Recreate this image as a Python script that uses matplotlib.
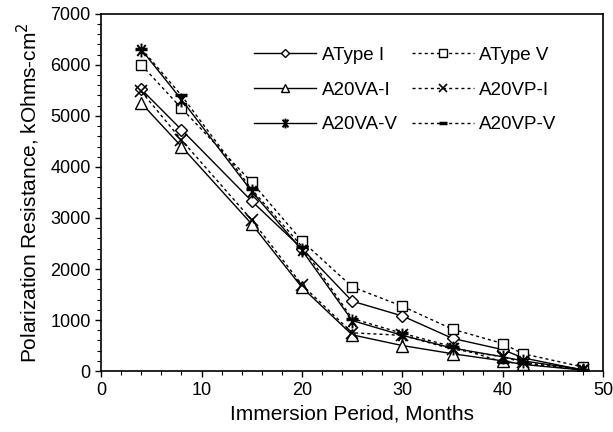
import matplotlib
matplotlib.use("Agg")
import matplotlib.pyplot as plt
from matplotlib.path import Path
from matplotlib.ticker import MultipleLocator

plt.rcParams['font.family'] = ['Liberation Sans', 'DejaVu Sans']

months = [4, 8, 15, 20, 25, 30, 35, 40, 42, 48]
atype_i = [5520, 4730, 3330, 2400, 1370, 1080, 640, 420, 260, 20]
atype_v = [6000, 5150, 3700, 2550, 1650, 1270, 820, 540, 340, 80]
a20va_i = [5250, 4400, 2880, 1640, 710, 500, 340, 200, 130, 20]
a20vp_i = [5480, 4530, 2960, 1690, 750, 700, 430, 280, 170, 20]
a20va_v = [6300, 5320, 3520, 2370, 990, 700, 450, 280, 200, 30]
a20vp_v = [6320, 5400, 3560, 2440, 1030, 740, 480, 180, 150, 30]

# asterisk-like marker (vertical + X)
star_path = Path(
    [(0, -1), (0, 1), (-0.6, -0.8), (0.6, 0.8), (-0.6, 0.8), (0.6, -0.8)],
    [Path.MOVETO, Path.LINETO, Path.MOVETO, Path.LINETO, Path.MOVETO, Path.LINETO])

fig = plt.figure(figsize=(6.13, 4.32), dpi=100)
ax = fig.add_axes([0.165, 0.141, 0.819, 0.827])

dot = (0, (2.2, 2.2))
kw = dict(color='black', lw=1.0, mfc='white', mec='black', mew=1.0)

h1, = ax.plot(months, atype_i, ls='-', marker='D', ms=6.5, label='AType I', **kw)
h2, = ax.plot(months, atype_v, ls=dot, marker='s', ms=7.5, label='AType V', **kw)
h3, = ax.plot(months, a20va_i, ls='-', marker='^', ms=8.5, label='A20VA-I', **kw)
h4, = ax.plot(months, a20vp_i, ls=dot, marker='x', ms=8, label='A20VP-I',
              color='black', lw=1.0, mec='black', mew=1.2)
h5, = ax.plot(months, a20va_v, ls='-', marker=star_path, ms=10, label='A20VA-V',
              color='black', lw=1.0, mec='black', mew=1.4)
h6, = ax.plot(months, a20vp_v, ls=dot, marker='_', ms=9, label='A20VP-V',
              color='black', lw=1.0, mec='black', mew=2.5)

ax.set_xlim(0, 50)
ax.set_ylim(0, 7000)
ax.xaxis.set_major_locator(MultipleLocator(10))
ax.xaxis.set_minor_locator(MultipleLocator(2))
ax.yaxis.set_major_locator(MultipleLocator(1000))
ax.yaxis.set_minor_locator(MultipleLocator(200))
ax.tick_params(which='major', direction='out', length=4, width=1, labelsize=13)
ax.tick_params(which='minor', direction='out', length=3, width=0.8)
for s in ax.spines.values():
    s.set_linewidth(1.2)

ax.set_xlabel('Immersion Period, Months', fontsize=15, labelpad=4)
ax.set_ylabel('Polarization Resistance, kOhms-cm$^2$', fontsize=15, labelpad=6)

leg = ax.legend(handles=[h1, h3, h5, h2, h4, h6], ncol=2, frameon=False,
                loc='upper left', bbox_to_anchor=(0.305, 0.908), fontsize=13.5,
                handlelength=3.3, markerscale=0.7, columnspacing=0.75,
                labelspacing=0.94, handletextpad=0.3, borderpad=0,
                borderaxespad=0)

fig.savefig('out.png', dpi=100)
